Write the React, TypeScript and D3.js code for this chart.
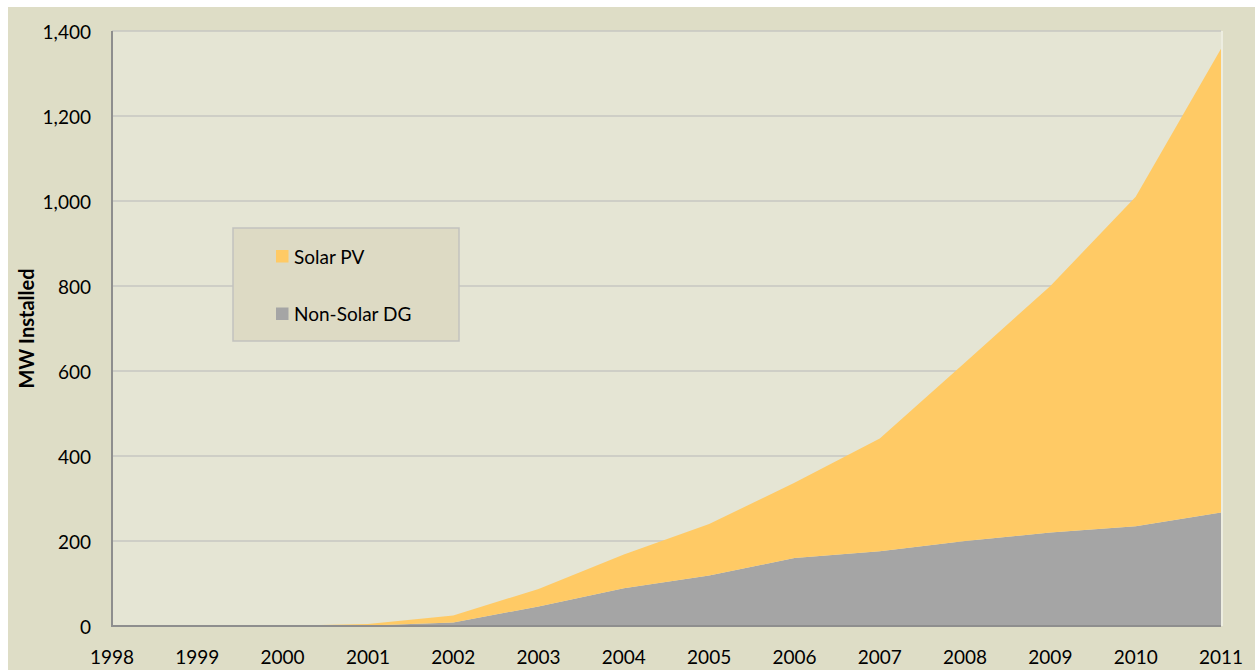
import React from "react";
import * as d3 from "d3";

const years = [1998, 1999, 2000, 2001, 2002, 2003, 2004, 2005, 2006, 2007, 2008, 2009, 2010, 2011];
const nonSolarDG = [0, 0, 0, 1, 8, 46, 89, 119, 160, 176, 200, 220, 235, 267];
const solarPV = [0, 0, 0.5, 4, 17, 41, 79, 121, 177, 265, 420, 580, 775, 1091];
const yTicks = [0, 200, 400, 600, 800, 1000, 1200, 1400];
const seriesKeys = ["nonSolar", "solar"];
const seriesLabels = ["Non-Solar DG", "Solar PV"];
const seriesColors = ["#A5A5A5", "#FFCA65"];

const W = 1255, H = 670;
const frame = { x: 8, y: 7 };
const plot = { left: 112, right: 1221, top: 31, bottom: 626 };
const FONT = "Lato, 'Open Sans', sans-serif";

export default function App() {
  const x = d3.scaleLinear().domain([1998, 2011]).range([plot.left, plot.right]);
  const y = d3.scaleLinear().domain([0, 1400]).range([plot.bottom, plot.top]);

  const rows = years.map((yr, i) => ({ year: yr, nonSolar: nonSolarDG[i], solar: solarPV[i] }));
  const stacked = d3.stack<any>().keys(seriesKeys)(rows);
  const area = d3
    .area<any>()
    .x((d) => x(d.data.year))
    .y0((d) => y(d[0]))
    .y1((d) => y(d[1]));

  const legendItems = [
    { label: seriesLabels[1], color: seriesColors[1], cy: 256 },
    { label: seriesLabels[0], color: seriesColors[0], cy: 313.5 },
  ];

  return (
    <svg
      width={W}
      height={H}
      style={{ position: "absolute", left: 0, top: 0, display: "block" }}
      fontFamily={FONT}
    >
      <rect x={0} y={0} width={W} height={H} fill="#ffffff" />
      <rect x={frame.x} y={frame.y} width={W - frame.x} height={H - frame.y} fill="#DEDDC6" />
      <rect
        x={plot.left}
        y={plot.top}
        width={plot.right - plot.left}
        height={plot.bottom - plot.top}
        fill="#E5E5D4"
      />
      {yTicks.slice(1).map((t) => (
        <line
          key={t}
          x1={plot.left}
          x2={plot.right}
          y1={y(t)}
          y2={y(t)}
          stroke="#C6C6C2"
          strokeWidth={1.5}
        />
      ))}
      {stacked.map((s, i) => (
        <path key={s.key} d={area(s as any) || ""} fill={seriesColors[i]} />
      ))}
      <line
        x1={plot.right + 1}
        x2={plot.right + 1}
        y1={plot.top}
        y2={plot.bottom}
        stroke="#EDEDE0"
        strokeWidth={2}
      />
      <line x1={plot.left} x2={plot.left} y1={plot.top} y2={plot.bottom + 1} stroke="#8E8E8E" strokeWidth={2} />
      <line x1={plot.left - 1} x2={plot.right} y1={plot.bottom} y2={plot.bottom} stroke="#8E8E8E" strokeWidth={2} />

      {yTicks.map((t) => (
        <text
          key={t}
          x={91}
          y={y(t)}
          textAnchor="end"
          dominantBaseline="central"
          fontSize={19}
          fill="#000"
        >
          {d3.format(",")(t)}
        </text>
      ))}
      {years.map((yr) => (
        <text key={yr} x={x(yr)} y={656} textAnchor="middle" dominantBaseline="central" fontSize={19} fill="#000">
          {yr}
        </text>
      ))}
      <text
        transform={`translate(26,${(plot.top + plot.bottom) / 2}) rotate(-90)`}
        textAnchor="middle"
        dominantBaseline="central"
        fontSize={20}
        fontWeight="bold"
        fill="#000"
      >
        MW Installed
      </text>

      <rect x={233} y={228} width={226} height={113} fill="#DDDAC4" stroke="#C2C2BE" strokeWidth={1.5} />
      {legendItems.map((it) => (
        <g key={it.label}>
          <rect x={276} y={it.cy - 6} width={12.5} height={12.5} fill={it.color} />
          <text x={294} y={it.cy} dominantBaseline="central" fontSize={19} fill="#000">
            {it.label}
          </text>
        </g>
      ))}
    </svg>
  );
}
